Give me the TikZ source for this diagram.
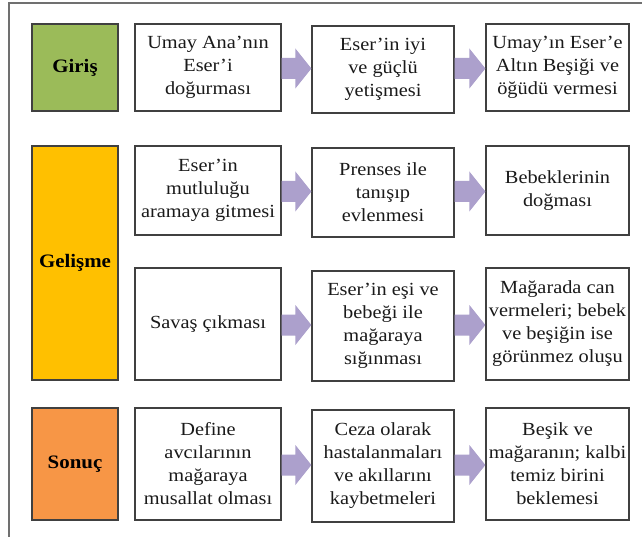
\documentclass[tikz,border=0pt]{standalone}
\usepackage{fontspec}
\setmainfont{Liberation Serif}[FakeStretch=1.1]
\usetikzlibrary{calc}
\definecolor{girisc}{HTML}{9BBB59}
\definecolor{gelismec}{HTML}{FFC000}
\definecolor{sonucc}{HTML}{F79646}
\definecolor{arrowc}{HTML}{ACA0CC}
\definecolor{borderc}{HTML}{404040}
\definecolor{framec}{HTML}{707070}
\definecolor{textc}{HTML}{1A1A1A}
\tikzset{
  evbox/.style={draw=borderc, line width=1.3pt, fill=white, inner sep=0pt,
    align=center, text=textc, font=\fontsize{18.5pt}{23pt}\selectfont},
  catbox/.style={draw=borderc, line width=1.3pt, inner sep=0pt, align=center,
    text=black, minimum width=86pt, font=\bfseries\fontsize{19pt}{23pt}\selectfont},
  c1/.style={minimum width=146pt},
  c2/.style={minimum width=142pt},
  c3/.style={minimum width=143pt},
}
\newcommand\flowarr[2]{%
  \path let \p1=(#1.east), \p2=(#2.west), \n1={0.5*(\y1+\y2)} in
    [fill=arrowc] (\x1,\n1+10.5pt) -- (\x2-16pt,\n1+10.5pt) -- (\x2-16pt,\n1+20pt)
    -- (\x2,\n1) -- (\x2-16pt,\n1-20pt) -- (\x2-16pt,\n1-10.5pt) -- (\x1,\n1-10.5pt) -- cycle;}
\begin{document}
\begin{tikzpicture}[x=1pt,y=-1pt]
\useasboundingbox (0,0) rectangle (642,537);
\fill[white] (0,0) rectangle (642,537);
\draw[framec, line width=1.3pt] (9,545) -- (9,3) -- (650,3);

% category boxes
\node[catbox, fill=girisc, minimum height=87pt] (giris) at (75,67.5) {Giriş};
\node[catbox, fill=gelismec, minimum height=234pt] (gelisme) at (75,263) {Gelişme};
\node[catbox, fill=sonucc, minimum height=112pt] (sonuc) at (75,464) {Sonuç};

% row 1
\node[evbox, c1, minimum height=87pt] (a1) at (208,67.5) {Umay Ana’nın\\Eser’i\\doğurması};
\node[evbox, c2, minimum height=87pt] (a2) at (383,69.5) {Eser’in iyi\\ve güçlü\\yetişmesi};
\node[evbox, c3, minimum height=87pt] (a3) at (557.5,67.5) {Umay’ın Eser’e\\Altın Beşiği ve\\öğüdü vermesi};

% row 2a
\node[evbox, c1, minimum height=89pt] (b1) at (208,190.5) {Eser’in\\mutluluğu\\aramaya gitmesi};
\node[evbox, c2, minimum height=89pt] (b2) at (383,192.5) {Prenses ile\\tanışıp\\evlenmesi};
\node[evbox, c3, minimum height=89pt] (b3) at (557.5,190.5) {Bebeklerinin\\doğması};

% row 2b
\node[evbox, c1, minimum height=112pt] (c1n) at (208,324) {Savaş çıkması};
\node[evbox, c2, minimum height=110pt] (c2n) at (383,326) {Eser’in eşi ve\\bebeği ile\\mağaraya\\sığınması};
\node[evbox, c3, minimum height=112pt] (c3n) at (557.5,324) {Mağarada can\\vermeleri; bebek\\ve beşiğin ise\\görünmez oluşu};

% row 3
\node[evbox, c1, minimum height=112pt] (d1) at (208,464) {Define\\avcılarının\\mağaraya\\musallat olması};
\node[evbox, c2, minimum height=112pt] (d2) at (383,466) {Ceza olarak\\hastalanmaları\\ve akıllarını\\kaybetmeleri};
\node[evbox, c3, minimum height=112pt] (d3) at (557.5,464) {Beşik ve\\mağaranın; kalbi\\temiz birini\\beklemesi};

% arrows
\flowarr{a1}{a2}\flowarr{a2}{a3}
\flowarr{b1}{b2}\flowarr{b2}{b3}
\flowarr{c1n}{c2n}\flowarr{c2n}{c3n}
\flowarr{d1}{d2}\flowarr{d2}{d3}
\end{tikzpicture}
\end{document}
